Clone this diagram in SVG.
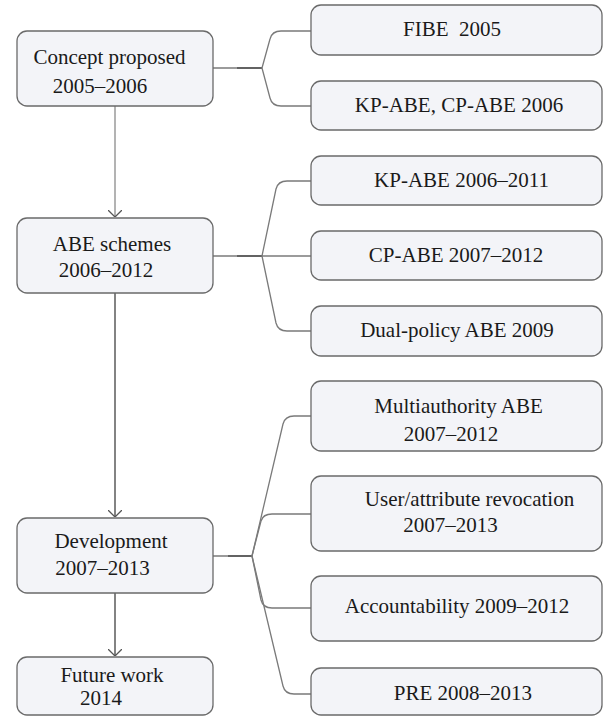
<svg xmlns="http://www.w3.org/2000/svg" width="604" height="716" viewBox="0 0 604 716">
<defs>
<style>
.box{fill:#f3f4f8;stroke:#6a6a6a;stroke-width:1.3}
.t{font-family:"Liberation Serif","Times New Roman",serif;font-size:21px;fill:#1a1a1a;text-anchor:middle}
.c{fill:none;stroke:#7a7a7a;stroke-width:1.3}
.cd{fill:none;stroke:#555;stroke-width:1.6}
.v1{fill:none;stroke:#8a8a8a;stroke-width:1.3}
.v2{fill:none;stroke:#5a5a5a;stroke-width:1.5}
</style>
<marker id="arr" markerUnits="userSpaceOnUse" viewBox="0 0 7 14" refX="7" refY="7" markerWidth="7" markerHeight="14" orient="auto">
<path d="M0,0 L7,7 L0,14" fill="none" stroke="#555" stroke-width="1.3"/>
</marker>
</defs>
<rect width="604" height="716" fill="#ffffff"/>
<g id="connectors">
<path class="v1" d="M115,106 L115,217" marker-end="url(#arr)"/>
<path class="v2" d="M115,293 L115,517" marker-end="url(#arr)"/>
<path class="v2" d="M115,593 L115,656" marker-end="url(#arr)"/>
<path class="c" d="M213,68 L262,68"/>
<path class="cd" d="M237,68 L262,68"/>
<path class="c" d="M262,68 L270,39 Q272,31 281,31 L311,31"/>
<path class="c" d="M262,68 L270,98 Q272,106 281,106 L311,106"/>
<path class="c" d="M213,256 L262,256"/>
<path class="cd" d="M237,256 L262,256"/>
<path class="c" d="M262,256 L276,189 Q278,181 287,181 L311,181"/>
<path class="c" d="M262,256 L311,256"/>
<path class="c" d="M262,256 L276,323 Q278,331 287,331 L311,331"/>
<path class="c" d="M213,556 L252,556"/>
<path class="cd" d="M228,556 L252,556"/>
<path class="c" d="M252,556 L283,424 Q285,416 294,416 L311,416"/>
<path class="c" d="M252,556 L261,521 Q263,514 272,514 L311,514"/>
<path class="c" d="M252,556 L261,600 Q263,608 272,608 L311,608"/>
<path class="c" d="M252,556 L283,686 Q285,694 294,694 L311,694"/>
</g>
<g id="n-concept">
<rect class="box" x="17" y="31" width="196" height="75" rx="10"/>
<text class="t" x="109.5" y="64">Concept proposed</text>
<text class="t" x="100" y="93">2005–2006</text>
</g>
<g id="n-abe">
<rect class="box" x="17" y="218" width="196" height="75" rx="10"/>
<text class="t" x="112" y="251">ABE schemes</text>
<text class="t" x="106" y="277">2006–2012</text>
</g>
<g id="n-dev">
<rect class="box" x="17" y="518" width="196" height="75" rx="10"/>
<text class="t" x="111" y="548">Development</text>
<text class="t" x="102.5" y="575">2007–2013</text>
</g>
<g id="n-future">
<rect class="box" x="17" y="657" width="196" height="58" rx="10"/>
<text class="t" x="112" y="682">Future work</text>
<text class="t" x="101" y="705">2014</text>
</g>
<g id="n-fibe">
<rect class="box" x="311" y="5" width="291" height="50" rx="10"/>
<text class="t" x="452" y="36" xml:space="preserve">FIBE  2005</text>
</g>
<g id="n-kpcp">
<rect class="box" x="311" y="81" width="291" height="49" rx="10"/>
<text class="t" x="459" y="112">KP-ABE, CP-ABE 2006</text>
</g>
<g id="n-kp">
<rect class="box" x="311" y="156" width="291" height="49" rx="10"/>
<text class="t" x="461.5" y="187">KP-ABE 2006–2011</text>
</g>
<g id="n-cp">
<rect class="box" x="311" y="231" width="291" height="49" rx="10"/>
<text class="t" x="456" y="262">CP-ABE 2007–2012</text>
</g>
<g id="n-dual">
<rect class="box" x="311" y="306" width="291" height="50" rx="10"/>
<text class="t" x="457" y="337">Dual-policy ABE 2009</text>
</g>
<g id="n-multi">
<rect class="box" x="311" y="381" width="291" height="70" rx="10"/>
<text class="t" x="458.5" y="413">Multiauthority ABE</text>
<text class="t" x="451" y="441">2007–2012</text>
</g>
<g id="n-revoc">
<rect class="box" x="311" y="476" width="291" height="75" rx="10"/>
<text class="t" x="469.5" y="506">User/attribute revocation</text>
<text class="t" x="450.5" y="532">2007–2013</text>
</g>
<g id="n-account">
<rect class="box" x="311" y="576" width="291" height="65" rx="10"/>
<text class="t" x="457" y="613">Accountability 2009–2012</text>
</g>
<g id="n-pre">
<rect class="box" x="311" y="668" width="291" height="47" rx="10"/>
<text class="t" x="463" y="700">PRE 2008–2013</text>
</g>
</svg>
